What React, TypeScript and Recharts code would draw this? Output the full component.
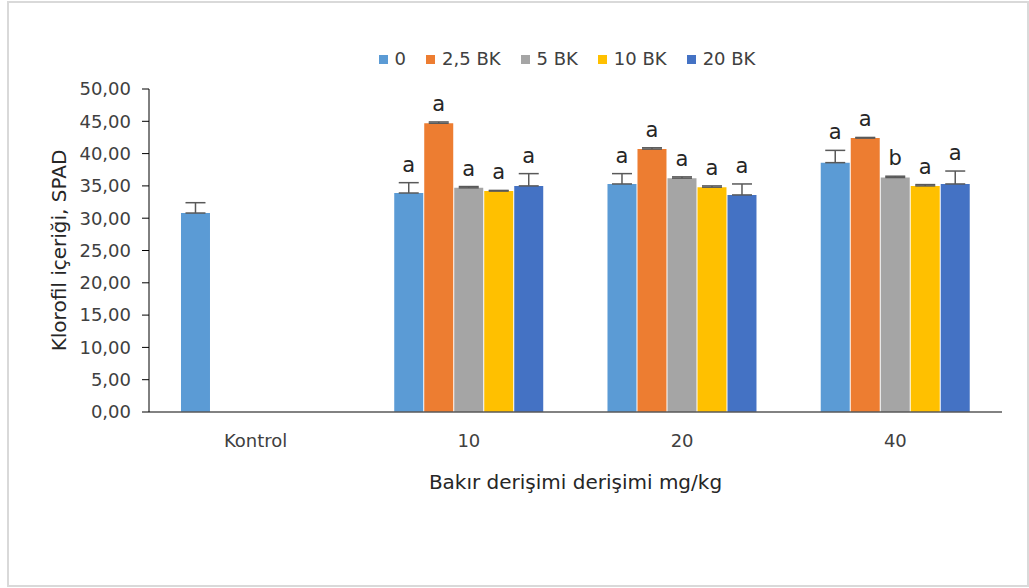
import { BarChart, Bar, XAxis, YAxis, ErrorBar, LabelList, Legend, Label } from "recharts";

const categories = ["Kontrol", "10", "20", "40"];
const seriesNames = ["0", "2,5 BK", "5 BK", "10 BK", "20 BK"];
const colors = ["#5b9bd5", "#ed7d31", "#a5a5a5", "#ffc000", "#4472c4"];
const yTicks = [0, 5, 10, 15, 20, 25, 30, 35, 40, 45, 50];

// bar heights (SPAD)
const values0 = [30.8, 33.9, 35.3, 38.6];
const values25 = [null, 44.7, 40.7, 42.4];
const values5 = [null, 34.7, 36.2, 36.3];
const values10 = [null, 34.2, 34.8, 35.0];
const values20 = [null, 35.0, 33.6, 35.3];

// upper error (only plus direction, like the Excel chart)
const errors0 = [1.6, 1.6, 1.6, 1.9];
const errors25 = [0, 0.2, 0.2, 0.1];
const errors5 = [0, 0.2, 0.2, 0.2];
const errors10 = [0, 0.1, 0.2, 0.2];
const errors20 = [0, 1.9, 1.7, 2.0];

// significance letters
const letters0 = ["", "a", "a", "a"];
const letters25 = ["", "a", "a", "a"];
const letters5 = ["", "a", "a", "b"];
const letters10 = ["", "a", "a", "a"];
const letters20 = ["", "a", "a", "a"];

const allValues = [values0, values25, values5, values10, values20];
const allErrors = [errors0, errors25, errors5, errors10, errors20];
const allLetters = [letters0, letters25, letters5, letters10, letters20];

const data = categories.map((name, c) => {
  const row: any = { name };
  allValues.forEach((vals, s) => {
    row[`s${s}`] = vals[c];
    row[`e${s}`] = [0, allErrors[s][c]];
    // letter|error|value, unpacked by the label renderer
    row[`l${s}`] = `${allLetters[s][c]}|${allErrors[s][c]}|${vals[c] ?? 0}`;
  });
  return row;
});

const FONT = "'DejaVu Sans', sans-serif";

const LetterLabel = (props: any) => {
  const { x, y, width, height, value } = props;
  if (!value) return null;
  const [letter, err, v] = String(value).split("|");
  if (!letter || !Number(v)) return null;
  const pxPerUnit = height / Number(v);
  const top = y - Number(err) * pxPerUnit;
  return (
    <text x={x + width / 2} y={top - 11} textAnchor="middle" fontSize={21} fill="#262626" fontFamily={FONT}>
      {letter}
    </text>
  );
};

const LegendContent = () => (
  <div
    style={{
      display: "flex",
      justifyContent: "center",
      gap: 20,
      fontFamily: FONT,
      fontSize: 18,
      lineHeight: "20px",
      height: 20,
      color: "#404040",
    }}
  >
    {seriesNames.map((n, i) => (
      <div key={n} style={{ display: "flex", alignItems: "center" }}>
        <span style={{ width: 9, height: 9, background: colors[i], display: "inline-block", marginRight: 7 }} />
        {n}
      </div>
    ))}
  </div>
);

export default function App() {
  return (
    <div
      style={{
        position: "absolute",
        left: 7,
        top: 1,
        width: 1018,
        height: 582,
        border: "2px solid #d9d9d9",
        background: "#fff",
      }}
    >
      <BarChart
        width={1018}
        height={582}
        data={data}
        margin={{ top: 86, right: 25, left: 40, bottom: 83 }}
        barCategoryGap="15%"
        barGap={1}
      >
        <Legend
          verticalAlign="middle"
          align="center"
          content={<LegendContent />}
          wrapperStyle={{ top: 46, left: 143, width: 830, height: 20 }}
        />
        <XAxis
          dataKey="name"
          height={90}
          tickLine={false}
          axisLine={{ stroke: "#595959", strokeWidth: 1.5 }}
          tick={{ fontSize: 18, fill: "#404040", fontFamily: FONT }}
          tickMargin={16}
        >
          <Label
            value="Bakır derişimi derişimi mg/kg"
            position="insideBottom"
            offset={13}
            style={{ fontSize: 20, fill: "#262626", fontFamily: FONT }}
          />
        </XAxis>
        <YAxis
          domain={[0, 50]}
          ticks={yTicks}
          interval={0}
          width={100}
          tickFormatter={(v: number) => v.toFixed(2).replace(".", ",")}
          axisLine={{ stroke: "#000" }}
          tickLine={{ stroke: "#000" }}
          tickSize={7}
          tickMargin={11}
          tick={{ fontSize: 18, fill: "#404040", fontFamily: FONT }}
        >
          <Label
            value="Klorofil içeriği, SPAD"
            angle={-90}
            position="insideLeft"
            offset={10}
            style={{ fontSize: 20, fill: "#262626", fontFamily: FONT, textAnchor: "middle" }}
          />
        </YAxis>
        {seriesNames.map((n, s) => (
          <Bar key={n} dataKey={`s${s}`} name={n} fill={colors[s]} isAnimationActive={false}>
            <ErrorBar dataKey={`e${s}`} width={10} stroke="#595959" strokeWidth={1.5} direction="y" />
            <LabelList dataKey={`l${s}`} content={LetterLabel} />
          </Bar>
        ))}
      </BarChart>
    </div>
  );
}
